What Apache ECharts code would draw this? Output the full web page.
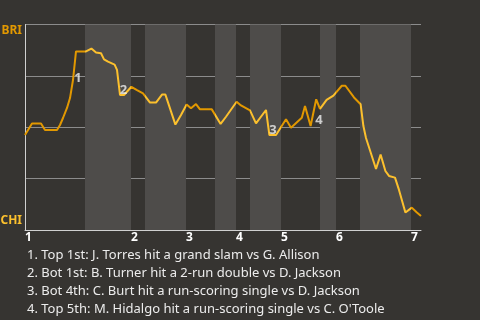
<!DOCTYPE html>
<html><head><meta charset="utf-8">
<script src="https://cdn.jsdelivr.net/npm/echarts@6/dist/echarts.min.js"></script>
<style>html,body{margin:0;padding:0;background:#363431;}#c{width:480px;height:320px;}</style>
</head><body><div id="c"></div>
<script>
// Play progress (x) and BRI win probability in % (y)
var plays = [0,1.75,4,5,8,8.75,9.5,10.5,11.25,12,12.75,14,15.25,16.6,17.75,19,19.75,20.75,22.4,23,23.75,24.75,26.6,28,29.5,31.25,32.75,34.25,35.1,37.6,39,40.4,41.5,42.75,43.75,46.7,48.9,50.25,52.9,54,56.25,57.75,60.25,61.1,62.75,65.25,66.5,69.2,70,71.4,72.8,73.75,75.4,77.1,79.2,80.1,82.25,83.9,84.6,85.25,87.75,88.9,90.1,91,92.5,93.5,95.1,96.7,97.9,99];
var winProb = [46.2,51.8,51.8,48.7,48.7,51.1,54.5,59.4,64.2,73.0,86.9,86.9,86.9,88.3,86.4,86.0,83.0,81.9,80.5,77.9,65.7,65.7,69.7,68.1,66.5,62.0,62.0,65.9,65.9,51.3,56.0,61.1,59.2,61.3,58.7,58.7,51.6,55.1,62.4,60.6,58.2,51.9,58.4,46.2,46.2,53.9,49.8,54.6,60.3,50.6,63.6,58.9,63.3,65.4,70.2,70.2,64.5,61.2,50.6,44.8,29.7,36.7,28.7,26.3,25.5,19.5,8.5,10.9,8.6,6.8];
var inningStarts = [0,26.5,40.25,52.75,64,77.75,96.5];
var bottomStarts = [15,30,47.5,56.25,73.75,83.75];
var inningLabels = ['1','2','3','4','5','6','7'];
var teams = {top:'BRI', bottom:'CHI'};
var eventTags = ['1','2','3','4'];
var eventX = [13.25,24.6,62,73.5];
var eventY = [74.0,68.1,48.7,53.5];
var notes = [
  '1. Top 1st: J. Torres hit a grand slam vs G. Allison',
  '2. Bot 1st: B. Turner hit a 2-run double vs D. Jackson',
  '3. Bot 4th: C. Burt hit a run-scoring single vs D. Jackson',
  '4. Top 5th: M. Hidalgo hit a run-scoring single vs C. O\'Toole'
];
var XMAX = 99;
var BRI_C = '#e29800', CHI_C = '#fcc02d';
var FONT = 'Noto Sans';

var lineData = plays.map(function(x,i){return [x, winProb[i]];});
var bands = bottomStarts.map(function(s,i){
  var e = (i+1 < inningStarts.length) ? inningStarts[i+1] : XMAX;
  return [{xAxis:s},{xAxis:e}];
});
var pieces = bottomStarts.map(function(s,i){
  var e = (i+1 < inningStarts.length) ? inningStarts[i+1] : XMAX;
  return {gte:s, lt:e, color:CHI_C};
});

var chart = echarts.init(document.getElementById('c'), null, {renderer:'canvas'});
chart.setOption({
  backgroundColor:'#363431',
  animation:false,
  title:{
    left:27, top:246, padding:0,
    text: notes.join('\n'),
    textStyle:{color:'#ececec', fontSize:13, fontWeight:'normal', fontFamily:FONT, lineHeight:18}
  },
  grid:{left:25, right:59, top:24.5, bottom:90, containLabel:false, outerBoundsMode:'none'},
  xAxis:{
    type:'value', min:0, max:XMAX,
    axisLine:{show:true, onZero:false, lineStyle:{color:'#d0d0d0', width:1}},
    axisTick:{show:false},
    splitLine:{show:false},
    axisLabel:{
      customValues: inningStarts,
      formatter:function(v){var i=inningStarts.indexOf(v);return i>=0?inningLabels[i]:'';},
      align:'left', color:'#ffffff', fontWeight:'bold', fontSize:12, fontFamily:FONT, margin:2
    }
  },
  yAxis:{
    type:'value', min:0, max:100, interval:25,
    axisLine:{show:true, lineStyle:{color:'#d0d0d0', width:1}},
    axisTick:{show:false},
    splitLine:{show:true, showMaxLine:true, lineStyle:{color:'#8c8c8c', width:1}},
    axisLabel:{
      margin:3,
      formatter:function(v){ if(v===100) return '{b|'+teams.top+'}'; if(v===0) return '{c|'+teams.bottom+'}'; return ''; },
      rich:{
        b:{color:BRI_C, fontWeight:'bold', fontSize:12, fontFamily:FONT, padding:[13,0,0,0]},
        c:{color:CHI_C, fontWeight:'bold', fontSize:12, fontFamily:FONT, padding:[0,0,18,0]}
      }
    }
  },
  visualMap:{show:false, type:'piecewise', dimension:0, seriesIndex:0, pieces:pieces, outOfRange:{color:BRI_C}},
  series:[
    {
      type:'line', data:lineData, symbol:'none', lineStyle:{width:2},
      markArea:{silent:true, itemStyle:{color:'#4e4c4a'}, data:bands},
      z:3
    },
    {
      type:'scatter', symbolSize:0, z:4,
      data: eventX.map(function(x,i){return {value:[x,eventY[i]], name:eventTags[i]};}),
      label:{show:true, position:'inside', formatter:'{b}', color:'#f0f0f0', fontSize:13, fontWeight:'bold', fontFamily:FONT}
    }
  ]
});
</script></body></html>
